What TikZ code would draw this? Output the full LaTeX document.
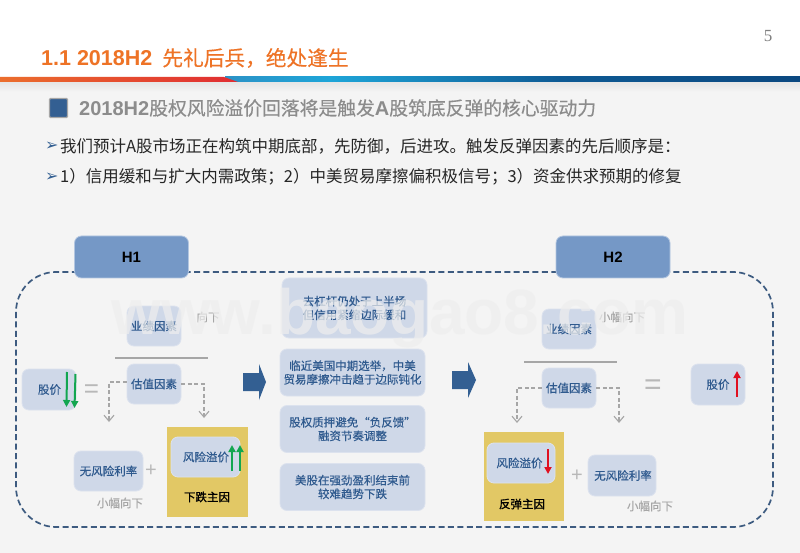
\documentclass[tikz,border=0pt]{standalone}
\usepackage{fontspec}
\usetikzlibrary{arrows.meta}
\setmainfont{Noto Sans CJK SC}
\newfontfamily\cjkf[FakeBold=0.35]{Noto Sans CJK SC}
\newfontfamily\cjkh[FakeBold=1.0]{Noto Sans CJK SC}
\newfontfamily\latinf{Liberation Sans}
\newfontfamily\serifnum{Liberation Serif}
\newfontfamily\dejav{DejaVu Sans}
\definecolor{pagebg}{HTML}{F4F4F4}
\definecolor{factfill}{HTML}{CFD8E8}
\definecolor{factedge}{HTML}{DCE2EE}
\definecolor{facttext}{HTML}{2F5A8E}
\definecolor{navy}{HTML}{335F92}
\definecolor{frameblue}{HTML}{3D5B80}
\definecolor{hfill}{HTML}{7598C6}
\definecolor{hedge}{HTML}{B3C6E0}
\definecolor{gold}{HTML}{E2C865}
\definecolor{softgray}{HTML}{A6A6A6}
\definecolor{titleorange}{HTML}{EE7326}
\definecolor{upgreen}{HTML}{12A650}
\definecolor{downred}{HTML}{E01020}
\tikzset{
  factbox/.style={draw=factedge,line width=.8pt,fill=factfill,rounded corners=7pt,inner sep=0pt,
    text=facttext,align=center,font={\fontsize{11.5}{13.6}\selectfont\cjkf}},
  headbox/.style={draw=hedge,line width=.8pt,fill=hfill,rounded corners=7pt,inner sep=0pt,
    minimum width=114,minimum height=42,font={\fontsize{15}{15}\selectfont\latinf\bfseries},text=black},
  causebox/.style={draw=none,fill=gold,inner sep=0pt},
  causetext/.style={inner sep=0pt,text=black,font={\fontsize{11.5}{12}\selectfont\cjkh}},
  note/.style={inner sep=0pt,text=softgray,font={\fontsize{11.5}{12}\selectfont\cjkf}},
  ratio/.style={draw=softgray,line width=2pt},
  flow/.style={draw=softgray,line width=1.1pt,dash pattern=on 4pt off 2.5pt,-{Straight Barb[length=6pt,width=10pt]}},
  sym/.style={inner sep=0pt,text=softgray!80,font=\latinf},
  bigarrow/.style={fill=navy,draw=none},
  updown/.style={line width=2pt,-{Triangle[length=7pt,width=7pt]}},
  bullet/.style={inner sep=0pt,anchor=west,text=navy,font={\fontsize{16}{16}\selectfont\dejav}},
  bodyline/.style={inner sep=0pt,anchor=west,text=black!85,font={\fontsize{16.5}{16.5}\selectfont}},
}
\begin{document}
\begin{tikzpicture}[x=1pt,y=-1pt]
\useasboundingbox (0,0) rectangle (800,553);
\fill[white] (0,0) rectangle (800,553);
\fill[pagebg] (0,80) rectangle (800,553);
\shade[top color=black!10,bottom color=pagebg,draw=none] (0,82) rectangle (800,92);
% band
\shade[left color={rgb,255:red,44;green,146;blue,198},right color={rgb,255:red,30;green,165;blue,216}] (225,77) rectangle (330,82);
\shade[left color={rgb,255:red,30;green,165;blue,216},right color={rgb,255:red,14;green,90;blue,148}] (330,77) rectangle (560,82);
\shade[left color={rgb,255:red,14;green,90;blue,148},right color={rgb,255:red,11;green,72;blue,128}] (560,77) rectangle (800,82);
\shade[left color={rgb,255:red,235;green,110;blue,45},right color={rgb,255:red,224;green,45;blue,50}] (0,77) -- (224,77) -- (238,82) -- (0,82) -- cycle;
% header text
\node[inner sep=0pt,text=black!50,font={\fontsize{17}{17}\selectfont\serifnum}] (pagenum) at (768,36) {5};
\node[inner sep=0pt,anchor=west,text=titleorange,font={\fontsize{20.7}{20.7}\selectfont\cjkf}] (title) at (41,58) {{\fontsize{21.5}{21.5}\selectfont\latinf\bfseries 1.1 2018H2}\hspace{10pt}先礼后兵，绝处逢生};
\node[draw=black!35,line width=1.2pt,fill=navy,rounded corners=1pt,inner sep=0pt,minimum width=18,minimum height=19] (marker) at (58.5,108) {};
\node[inner sep=0pt,anchor=west,text=black!45,font={\fontsize{18.8}{18.8}\selectfont\cjkf}] (headline) at (79,108) {{\fontsize{20}{20}\selectfont\latinf\bfseries 2018H2}股权风险溢价回落将是触发{\fontsize{20}{20}\selectfont\latinf\bfseries A}股筑底反弹的核心驱动力};
\node[bullet] (b1) at (45,146) {➢};
\node[bodyline] (l1) at (60,146) {我们预计A股市场正在构筑中期底部，先防御，后进攻。触发反弹因素的先后顺序是：};
\node[bullet] (b2) at (45,177) {➢};
\node[bodyline] (l2) at (60,177) {1）信用缓和与扩大内需政策；2）中美贸易摩擦偏积极信号；3）资金供求预期的修复};
% frame
\draw[frameblue,line width=1.7pt,dash pattern=on 6pt off 3.4pt,rounded corners=40pt] (16,272) rectangle (773,527);
\node[headbox] (h1) at (131.5,257) {H1};
\node[headbox] (h2) at (613,257) {H2};
% left
\node[note] (ln) at (208,317) {向下};
\node[factbox,minimum width=54,minimum height=40] (perf1) at (154,326) {业绩因素};
\draw[ratio] (115,358) -- (208,358);
\node[factbox,minimum width=54,minimum height=40] (val1) at (154,384) {估值因素};
\node[factbox,minimum width=54,minimum height=41] (stock1) at (49,389.5) {\hspace{1pt}股价};
\draw[updown,upgreen] (67,372) -- (66.5,407);
\draw[updown,upgreen] (75.5,374) -- (74.5,408);
\node[sym,font={\fontsize{26}{26}\selectfont\latinf}] (eq1) at (91.5,391) {=};
\coordinate (t1a) at (109,422);
\coordinate (t1b) at (204,418);
\draw[flow] ([yshift=2pt]val1.west) -| (t1a);
\draw[flow] (val1.east) -| (t1b);
\node[causebox,minimum width=81,minimum height=90] (gold1) at (207.5,472) {};
\node[factbox,minimum width=69,minimum height=40,text width=69] (risk1) at (205.5,457) {\hspace{1pt}风险溢价\hspace{7pt}};
\draw[updown,upgreen] (232,471) -- (232,445);
\draw[updown,upgreen] (240,471) -- (240,445);
\node[causetext] (cause1) at (207,497) {下跌主因};
\node[factbox,minimum width=69,minimum height=40] (rf1) at (108.5,471) {无风险利率};
\node[sym,font={\fontsize{20}{20}\selectfont\latinf}] (plus1) at (151,471) {+};
\node[note] (small1) at (120,503) {小幅向下};
\fill[bigarrow] (243,373) -- (259,373) -- (259,364) -- (266,382) -- (259,400) -- (259,391) -- (243,391) -- cycle;
% middle
\node[factbox,minimum width=145,minimum height=60] (m1) at (354.5,308) {去杠杆仍处于上半场\\但信用紧缩边际缓和};
\node[factbox,minimum width=145,minimum height=47] (m2) at (352.5,372.5) {临近美国中期选举，中美\\贸易摩擦冲击趋于边际钝化};
\node[factbox,minimum width=145,minimum height=47] (m3) at (352.5,429) {股权质押避免“负反馈”\\融资节奏调整};
\node[factbox,minimum width=145,minimum height=47] (m4) at (352.5,487) {美股在强劲盈利结束前\\较难趋势下跌};
\fill[bigarrow] (452,371) -- (468,371) -- (468,362) -- (476,380) -- (468,398) -- (468,389) -- (452,389) -- cycle;
% right
\node[note] (rn) at (622,317) {小幅向下};
\node[factbox,minimum width=54,minimum height=40] (perf2) at (569,329) {业绩因素};
\draw[ratio] (524,362) -- (617,362);
\node[factbox,minimum width=54,minimum height=40] (val2) at (569,388) {估值因素};
\coordinate (t2a) at (517,423);
\coordinate (t2b) at (619,423);
\draw[flow] (val2.west) -| (t2a);
\draw[flow] (val2.east) -| (t2b);
\node[sym,font={\fontsize{30}{30}\selectfont\latinf}] (eq2) at (653,387) {=};
\node[factbox,minimum width=54,minimum height=41] (stock2) at (718,384.5) {股价};
\draw[updown,downred] (737,397) -- (737,371);
\node[causebox,minimum width=80,minimum height=89] (gold2) at (524,476.5) {};
\node[factbox,minimum width=68,minimum height=40] (risk2) at (521,463) {风险溢价\hspace{3pt}};
\draw[updown,downred] (548,449) -- (548,474);
\node[causetext] (cause2) at (522,504) {反弹主因};
\node[sym,font={\fontsize{20}{20}\selectfont\latinf}] (plus2) at (577,476) {+};
\node[factbox,minimum width=68,minimum height=41] (rf2) at (622,475.5) {\hspace{2pt}无风险利率};
\node[note] (small2) at (650,506) {小幅向下};
% watermark
\node[inner sep=0pt,text={rgb,255:red,238;green,238;blue,238},text opacity=.72,font={\fontsize{64}{64}\selectfont\latinf\bfseries}] (mark) at (400,318) {www.baogao8.com};
\end{tikzpicture}
\end{document}
